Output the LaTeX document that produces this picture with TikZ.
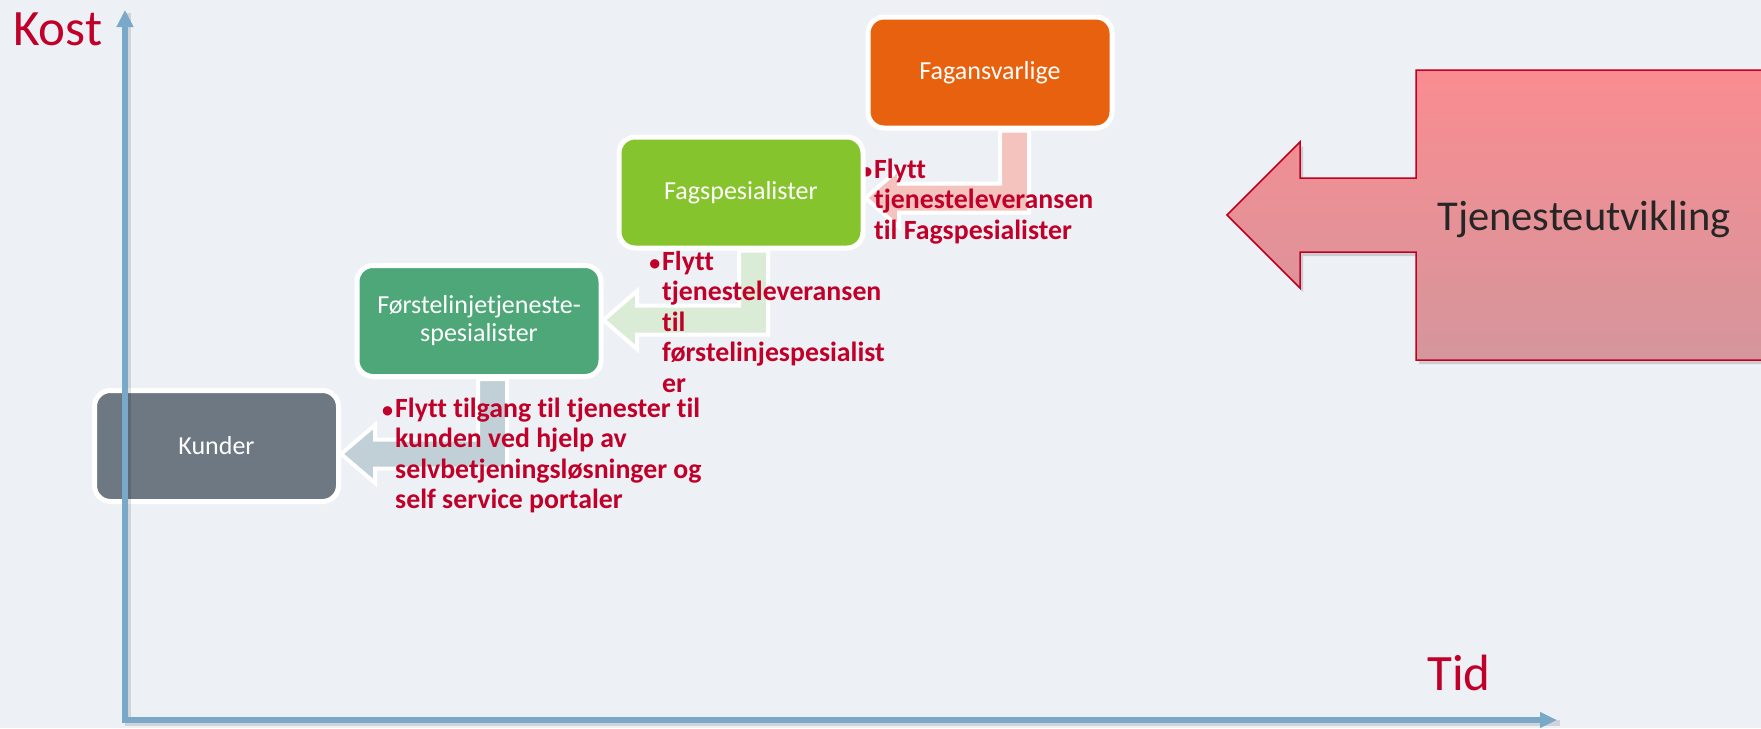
\documentclass[tikz,border=0pt]{standalone}
\usepackage{fontspec}
\setmainfont{Carlito}[Ligatures=NoCommon, RawFeature={-liga;-clig}]
\usetikzlibrary{arrows.meta}
\pgfdeclarelayer{bg}
\pgfdeclarelayer{arr}
\pgfsetlayers{bg,arr,main}
\definecolor{bgcol}{RGB}{237,241,245}
\definecolor{orangebox}{RGB}{232,97,14}
\definecolor{limebox}{RGB}{134,196,46}
\definecolor{greenbox}{RGB}{78,167,120}
\definecolor{graybox}{RGB}{110,120,131}
\definecolor{pinkarr}{RGB}{244,195,189}
\definecolor{greenarr}{RGB}{218,236,214}
\definecolor{grayarr}{RGB}{193,207,214}
\definecolor{notered}{RGB}{192,0,40}
\definecolor{labred}{RGB}{192,0,40}
\definecolor{axiscol}{RGB}{122,168,200}
\definecolor{tjtop}{RGB}{250,140,145}
\definecolor{tjmid}{RGB}{214,104,114}
\definecolor{tjbot}{RGB}{212,150,156}
\definecolor{tjred}{RGB}{192,0,32}
\definecolor{tjtext}{RGB}{38,38,38}
\newcommand{\nbul}{\llap{{\fontsize{22}{22}\selectfont •}\kern2pt}}
\begin{document}
\begin{tikzpicture}[x=1pt,y=-1pt,
  box/.style={draw=white, line width=5pt, rounded corners=16pt,
    minimum width=244pt, minimum height=111pt, inner sep=0pt,
    text=white, font=\fontsize{26}{28}\selectfont, align=center},
  note/.style={text=notered, font=\fontsize{27.8}{30.5}\selectfont\bfseries,
    inner sep=0pt, anchor=base west},
  bent/.style={draw=white, line width=4pt, line join=miter},
  axis/.style={draw=axiscol, line width=6pt, line join=miter},
  biglabel/.style={anchor=base west, inner sep=0pt, text=labred,
    font=\fontsize{51}{60}\selectfont}]
\begin{pgfonlayer}{bg}
\fill[bgcol] (0,0) rectangle (1761,728);
\end{pgfonlayer}
\useasboundingbox (0,0) rectangle (1761,728);
\clip (0,0) rectangle (1761,728);

% boxes
\node[box, fill=orangebox] (fagans) at (990,72.5) {Fagansvarlige};
\node[box, fill=limebox] (fagsp) at (741,192.5) {Fagspesialister};
\node[box, fill=greenbox] (forst) at (479,321) {Førstelinjetjeneste-\\spesialister};
\node[box, fill=graybox] (kunder) at (216.5,446) {Kunder};

\begin{pgfonlayer}{arr}
% Tjenesteutvikling arrow
\fill[black, opacity=0.15] (1230,219) -- (1303,146) -- (1303,182) -- (1419,182) -- (1419,74) -- (1800,74) -- (1800,364) -- (1419,364) -- (1419,256) -- (1303,256) -- (1303,292) -- cycle;
\path[top color=tjtop, middle color=tjmid, bottom color=tjbot, draw=tjred, line width=1.5pt]
  (1227,215) -- (1300,142) -- (1300,178) -- (1416,178) -- (1416,70) -- (1800,70)
  -- (1800,360) -- (1416,360) -- (1416,252) -- (1300,252) -- (1300,288) -- cycle;
\node[anchor=base, inner sep=0pt, font=\fontsize{42.5}{50}\selectfont, text=tjtext] (tjtxt) at (1584,230) {Tjenesteutvikling};

% bent arrows
\path[bent, fill=pinkarr] (fagans.south -| 1000,0) -- (1000,183.5) -- (899,183.5) -- (899,169)
  -- (fagsp.east |- 0,198) -- (899,227) -- (899,212.5) -- (1029,212.5) -- (fagans.south -| 1029,0) -- cycle;
\path[bent, fill=greenarr] (fagsp.south -| 739,0) -- (739,305.5) -- (637,305.5) -- (637,291)
  -- (forst.east |- 0,320) -- (637,349) -- (637,334.5) -- (768,334.5) -- (fagsp.south -| 768,0) -- cycle;
\path[bent, fill=grayarr] (forst.south -| 478,0) -- (478,439.5) -- (375,439.5) -- (375,425)
  -- (kunder.east |- 0,454) -- (375,483) -- (375,468.5) -- (507,468.5) -- (forst.south -| 507,0) -- cycle;

% notes
\node[note] (noteA) at (874,178) {\begin{tabular}[t]{@{}l@{}}\nbul Flytt\\tjenesteleveransen\\til Fagspesialister\end{tabular}};
\node[note] (noteB) at (662,270) {\begin{tabular}[t]{@{}l@{}}\nbul Flytt\\tjenesteleveransen\\til\\førstelinjespesialist\\er\end{tabular}};
\node[note] (noteC) at (395,417) {\begin{tabular}[t]{@{}l@{}}\nbul Flytt tilgang til tjenester til\\kunden ved hjelp av\\selvbetjeningsløsninger og\\self service portaler\end{tabular}};
\end{pgfonlayer}

% axes
\coordinate (ytop) at (125,10);
\coordinate (origin) at (125,720);
\coordinate (xend) at (1557,720);
\draw[black, opacity=0.12, line width=6pt] ([shift={(3,3)}]ytop) -- ([shift={(3,3)}]origin) -- ([shift={(3,3)}]xend);
\draw[axis, {Triangle[length=17pt,width=16pt]}-{Triangle[length=17pt,width=15pt]}] (ytop) -- (origin) -- (xend);

\node[biglabel] (kost) at (13,45) {Kost};
\node[biglabel] (tid) at (1427,690) {Tid};
\end{tikzpicture}
\end{document}
